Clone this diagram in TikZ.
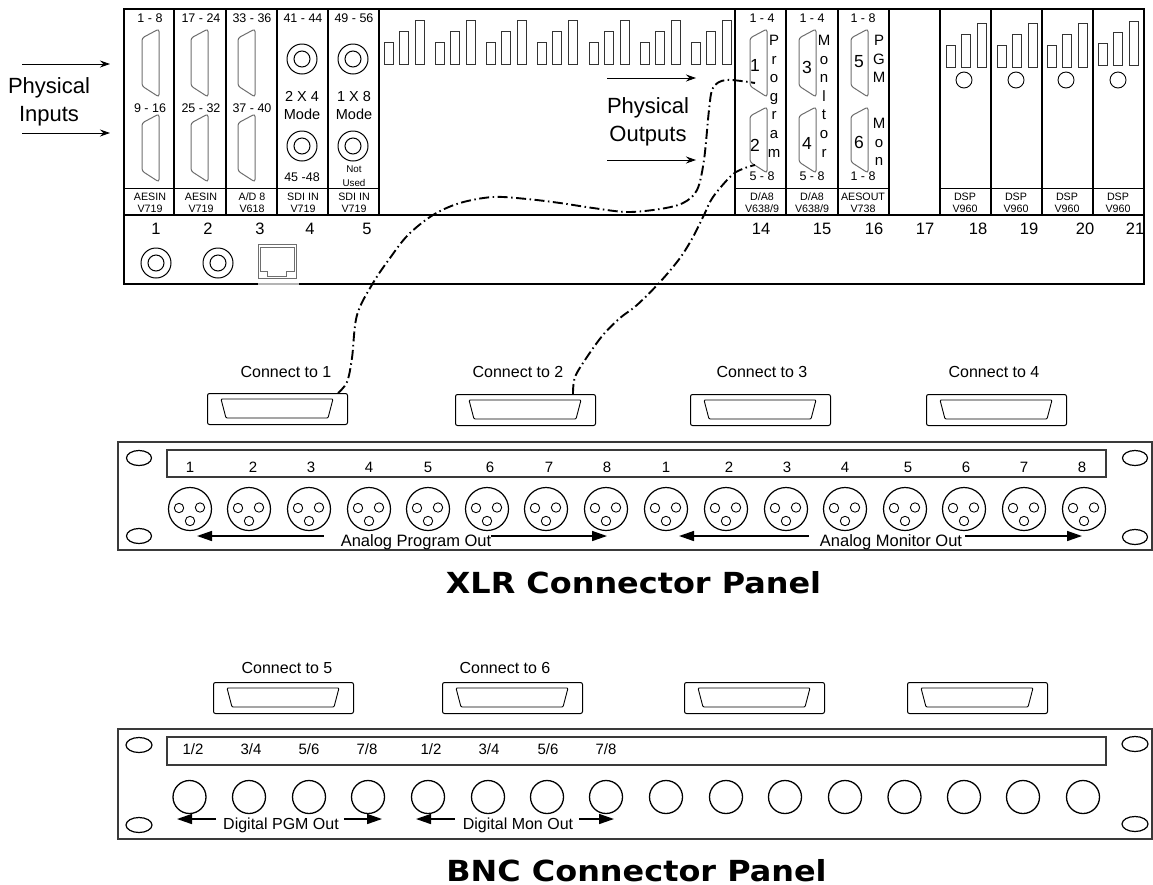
\documentclass[tikz,border=0pt]{standalone}
\usepackage{fontspec}
\setmainfont{Liberation Sans}
\newfontfamily\titlefont[FakeStretch=1.1]{DejaVu Sans}
\usetikzlibrary{positioning, calc, arrows.meta, shapes.geometric}
\definecolor{Dark}{HTML}{3A3A3A}
\definecolor{Pin}{HTML}{6E6E6E}
\definecolor{Faded}{HTML}{B4B4B4}
\newcommand{\fs}[1]{\fontsize{#1}{#1}\selectfont}
\tikzset{
    lab/.style={inner sep=0pt, font=\fs{#1}, text height=0.72*#1 pt, text depth=0pt, align=center},
    heading/.style={inner sep=0pt, font=\titlefont\bfseries\fs{29}, text height=21.5pt, text depth=0pt},
    frame/.style={line width=1.3pt, draw=black},
    panelline/.style={line width=1.4pt, draw=Dark},
    bar/.style={draw=black!80, line width=0.8pt},
    thinarrow/.style={-{Stealth[length=10pt,width=7pt]}, line width=0.9pt},
    fatarrow/.style={-{Stealth[length=15pt,width=10pt,inset=0pt]}, line width=1.5pt},
    cable/.style={line width=1.9pt, dash pattern=on 10pt off 3.5pt on 1.5pt off 3.5pt},
    dbbox/.style={rectangle, rounded corners=2pt, draw=black, line width=1pt, minimum width=140pt, minimum height=31pt, inner sep=0pt, anchor=north west},
    dbv/.pic={\draw[draw=Pin, line width=1pt, rounded corners=2.5pt] (17,0) -- (0,9) -- (0,57) -- (17,68) -- cycle;},
    dbw/.pic={\draw[draw=Pin, line width=1pt, rounded corners=2.5pt] (17,0) -- (0,9) -- (0,55) -- (17,66) -- cycle;},
    dbface/.pic={\draw[line width=0.9pt, rounded corners=1pt] (14,6) -- (126,6) -- (121,25) -- (19,25) -- cycle;},
    rca/.pic={\draw[line width=1pt] (0,0) circle (15) (0,0) circle (8);},
    xlr/.pic={\draw[line width=1.2pt] (0,0) circle (21.5);
        \draw[line width=0.9pt] (-11,-1) circle (4.7) (10,-1.5) circle (4.7) (0,12) circle (4.7);},
    bars/.pic={\draw[bar] (0,42) rectangle (9,64) (15.5,31) rectangle (24.5,64) (31,20) rectangle (40,64);},
}

\begin{document}
\begin{tikzpicture}[x=1pt, y=-1pt]
    \useasboundingbox (0,0) rectangle (1153,884);

    % Chassis
    \draw[frame] (124,9) rectangle (1144,284);
    \draw[frame] (124,215) -- (1144,215);
    \foreach \x in {174,226,277,328,379,735,786,838,889,940,991,1042,1093}
        \draw[frame] (\x,9) -- (\x,215);
    \draw[line width=0.8pt] (124,188) -- (379,188) (735,188) -- (889,188) (940,188) -- (1144,188);
    \draw[Faded, line width=1.4pt] (258,284) -- (299,284);

    % Bar groups
    \foreach \x in {384,435,486,537,589,640,691}
        \pic at (\x,0) {bars};
    \foreach \x in {946,997,1047}
        \pic at (\x,3) {bars};
    \pic at (1098,1) {bars};
    \foreach \x/\i in {964/1,1016/2,1066/3,1118/4}
        \node[circle, draw, line width=0.9pt, minimum size=16pt, inner sep=0pt] (led\i) at (\x,80) {};

    % D connectors
    \foreach \x in {142,191,238} {
        \pic at (\x,29) {dbv};
        \pic at (\x,114) {dbv};
    }
    \foreach \x in {750,799,851} {
        \pic at (\x,29) {dbv};
        \pic at (\x,107) {dbw};
    }
    \foreach \x/\y in {302/59,302/146,353/59,353/146,156/263,218/263}
        \pic at (\x,\y) {rca};

    % RJ45
    \draw[Pin, line width=1pt] (258,244) rectangle (296,278);
    \draw[Pin, line width=0.9pt] (260,247) -- (294,247) -- (294,271) -- (286,271) -- (286,276) -- (267,276) -- (267,271) -- (260,271) -- cycle;

    % Slot texts
    \foreach \x/\t [count=\i] in {150/1 - 8,201/17 - 24,252/33 - 36,303/41 - 44,354/49 - 56,762/1 - 4,812/1 - 4,863/1 - 8}
        \node[lab=12.5] (top\i) at (\x,18) {\t};
    \foreach \x/\t [count=\i] in {150/9 - 16,201/25 - 32,252/37 - 40}
        \node[lab=12.5] (mid\i) at (\x,108) {\t};
    \foreach \x/\t [count=\i] in {762/5 - 8,812/5 - 8,863/1 - 8}
        \node[lab=12.5] (low\i) at (\x,176) {\t};
    \foreach \x/\a/\b [count=\i] in {150/AESIN/V719,201/AESIN/V719,252/{A/D 8}/V618,303/SDI IN/V719,354/SDI IN/V719,762/{D/A8}/{V638/9},812/{D/A8}/{V638/9},863/AESOUT/V738,965/DSP/V960,1016/DSP/V960,1067/DSP/V960,1118/DSP/V960} {
        \node[lab=10.7] (card\i) at (\x,197) {\a};
        \node[lab=10.7] (type\i) at (\x,209) {\b};
    }
    \foreach \x/\t [count=\i] in {156/1,208/2,260/3,310/4,367/5,761/14,822/15,874/16,925/17,978/18,1029/19,1085/20,1135/21}
        \node[lab=16.5] (slot\i) at (\x,229) {\t};

    \node[lab=14.5] (modea) at (302,96) {2 X 4};
    \node[lab=14.5] (modeb) at (302,114) {Mode};
    \node[lab=14.5] (modec) at (354,96) {1 X 8};
    \node[lab=14.5] (moded) at (354,114) {Mode};
    \node[lab=12.5] (rest) at (302,177) {45 -48};
    \node[lab=9.8] (nota) at (354,169) {Not};
    \node[lab=9.8] (notb) at (354,183) {Used};

    % Connector numbers and vertical words
    \foreach \x/\y/\t in {755/65/1,755/145/2,807/67/3,807/143/4,859/61/5,859/142/6}
        \node[lab=17.5] (num\t) at (\x,\y) {\t};
    \foreach \c [count=\i] in {P,r,o,g,r,a,m}
        \node[lab=15] (prog\i) at (774,{21.5+18.6*\i}) {\c};
    \foreach \c [count=\i] in {M,o,n,l,t,o,r}
        \node[lab=15] (moni\i) at (824,{21.5+18.6*\i}) {\c};
    \foreach \c [count=\i] in {P,G,M}
        \node[lab=15] (pgm\i) at (879,{21.5+18.6*\i}) {\c};
    \foreach \c [count=\i] in {M,o,n}
        \node[lab=15] (mon\i) at (879,{104.5+18.6*\i}) {\c};

    % Physical inputs and outputs
    \node[lab=22] (physa) at (49,86) {Physical};
    \node[lab=22] (physb) at (49,114) {Inputs};
    \node[lab=22] (physc) at (648,106) {Physical};
    \node[lab=22] (physd) at (648,134) {Outputs};
    \foreach \n/\a/\b/\y in {ia/22/110/64,ib/22/110/133,oa/607/696/78,ob/607/696/160} {
        \coordinate (\n s) at (\a,\y);
        \coordinate (\n e) at (\b,\y);
        \draw[thinarrow] (\n s) -- (\n e);
    }

    % XLR panel
    \draw[panelline] (118,442) rectangle (1152,550);
    \draw[panelline] (167,450) rectangle (1106,477);
    \foreach \x/\y/\n in {139/458/a,139/536/b,1135/458/c,1135/537/d}
        \node[ellipse, draw, line width=1.2pt, minimum width=25pt, minimum height=15pt, inner sep=0pt] (xhole\n) at (\x,\y) {};
    \foreach \x in {190,249,309,369,428,487,546,606,666,726,786,845,905,964,1024,1084}
        \pic at (\x,509) {xlr};
    \foreach \x/\t [count=\i] in {190/1,253/2,311/3,369/4,428/5,490/6,549/7,607/8,666/1,729/2,787/3,845/4,908/5,966/6,1024/7,1082/8}
        \node[lab=15] (xnum\i) at (\x,467) {\t};
    \node[lab=16.5] (apo) at (416,540.5) {Analog Program Out};
    \node[lab=16.5] (amo) at (891,540.5) {Analog Monitor Out};
    \coordinate (apol) at (197,536);
    \coordinate (apor) at (607,536);
    \coordinate (amol) at (679,536);
    \coordinate (amor) at (1082,536);
    \draw[fatarrow] ([xshift=-17pt]apo.west |- apol) -- (apol);
    \draw[fatarrow] (apo.east |- apor) -- (apor);
    \draw[fatarrow] ([xshift=-11pt]amo.west |- amol) -- (amol);
    \draw[fatarrow] ([xshift=3pt]amo.east |- amor) -- (amor);
    \node[heading] (xlrtitle) at (633.5,582.5) {XLR Connector Panel};

    % BNC panel
    \draw[panelline] (118,729) rectangle (1152,839);
    \draw[panelline] (167,737) rectangle (1106,765);
    \foreach \x/\y/\n in {139/745/a,139/825/b,1135/744/c,1135/824/d}
        \node[ellipse, draw, line width=1.2pt, minimum width=26pt, minimum height=15pt, inner sep=0pt] (bhole\n) at (\x,\y) {};
    \foreach \x [count=\i] in {189.5,249,309,368,428,488,547,606,666,726,785,845,904.5,964,1023,1083}
        \node[circle, draw, line width=1.3pt, minimum size=33pt, inner sep=0pt] (bnc\i) at (\x,797) {};
    \foreach \x/\t [count=\i] in {193/{1/2},251/{3/4},309/{5/6},367/{7/8},431/{1/2},489/{3/4},548/{5/6},606/{7/8}}
        \node[lab=15] (bnum\i) at (\x,749) {\t};
    \node[lab=16] (dpo) at (281,824) {Digital PGM Out};
    \node[lab=16] (dmo) at (518,824) {Digital Mon Out};
    \coordinate (dpol) at (177,819);
    \coordinate (dpor) at (382,819);
    \coordinate (dmol) at (416,819);
    \coordinate (dmor) at (614,819);
    \draw[fatarrow] ([xshift=-7pt]dpo.west |- dpol) -- (dpol);
    \draw[fatarrow] ([xshift=5pt]dpo.east |- dpor) -- (dpor);
    \draw[fatarrow] ([xshift=-8pt]dmo.west |- dmol) -- (dmol);
    \draw[fatarrow] ([xshift=6pt]dmo.east |- dmor) -- (dmor);
    \node[heading] (bnctitle) at (636.5,870.5) {BNC Connector Panel};

    % Multi pin boxes
    \foreach \n/\x/\y in {1/207/393,2/455/394,3/690/394,4/926/394,5/213/682,6/442/682,7/684/682,8/907/682} {
        \node[dbbox] (db\n) at (\x,\y) {};
        \pic at (db\n.north west) {dbface};
    }
    \foreach \x/\y/\t in {286/372/1,518/372/2,762/372/3,994/372/4,287/668/5,505/668/6}
        \node[lab=16] (conn\t) at (\x,\y) {Connect to \t};

    % Cables
    \coordinate (pina) at (755,83);
    \coordinate (pinb) at (755,165);
    \coordinate (dba) at ([xshift=-10pt]db1.north east);
    \coordinate (dbb) at ([xshift=-23pt]db2.north east);
    \draw[cable] plot[smooth, tension=0.55] coordinates {(dba) (347,382) (352,358) (357,315) (373,283) (390,258) (408,235) (433,215) (460,203) (493,197) (527,199) (560,203) (593,208) (627,212) (660,209) (683,203) (697,190) (704,160) (709,110) (713,88) (726,80) (pina)};
    \draw[cable] plot[smooth, tension=0.55] coordinates {(dbb) (575,377) (587,357) (603,335) (620,318) (637,305) (660,282) (680,258) (693,237) (704,215) (713,197) (732,175) (745,168) (pinb)};
\end{tikzpicture}
\end{document}
